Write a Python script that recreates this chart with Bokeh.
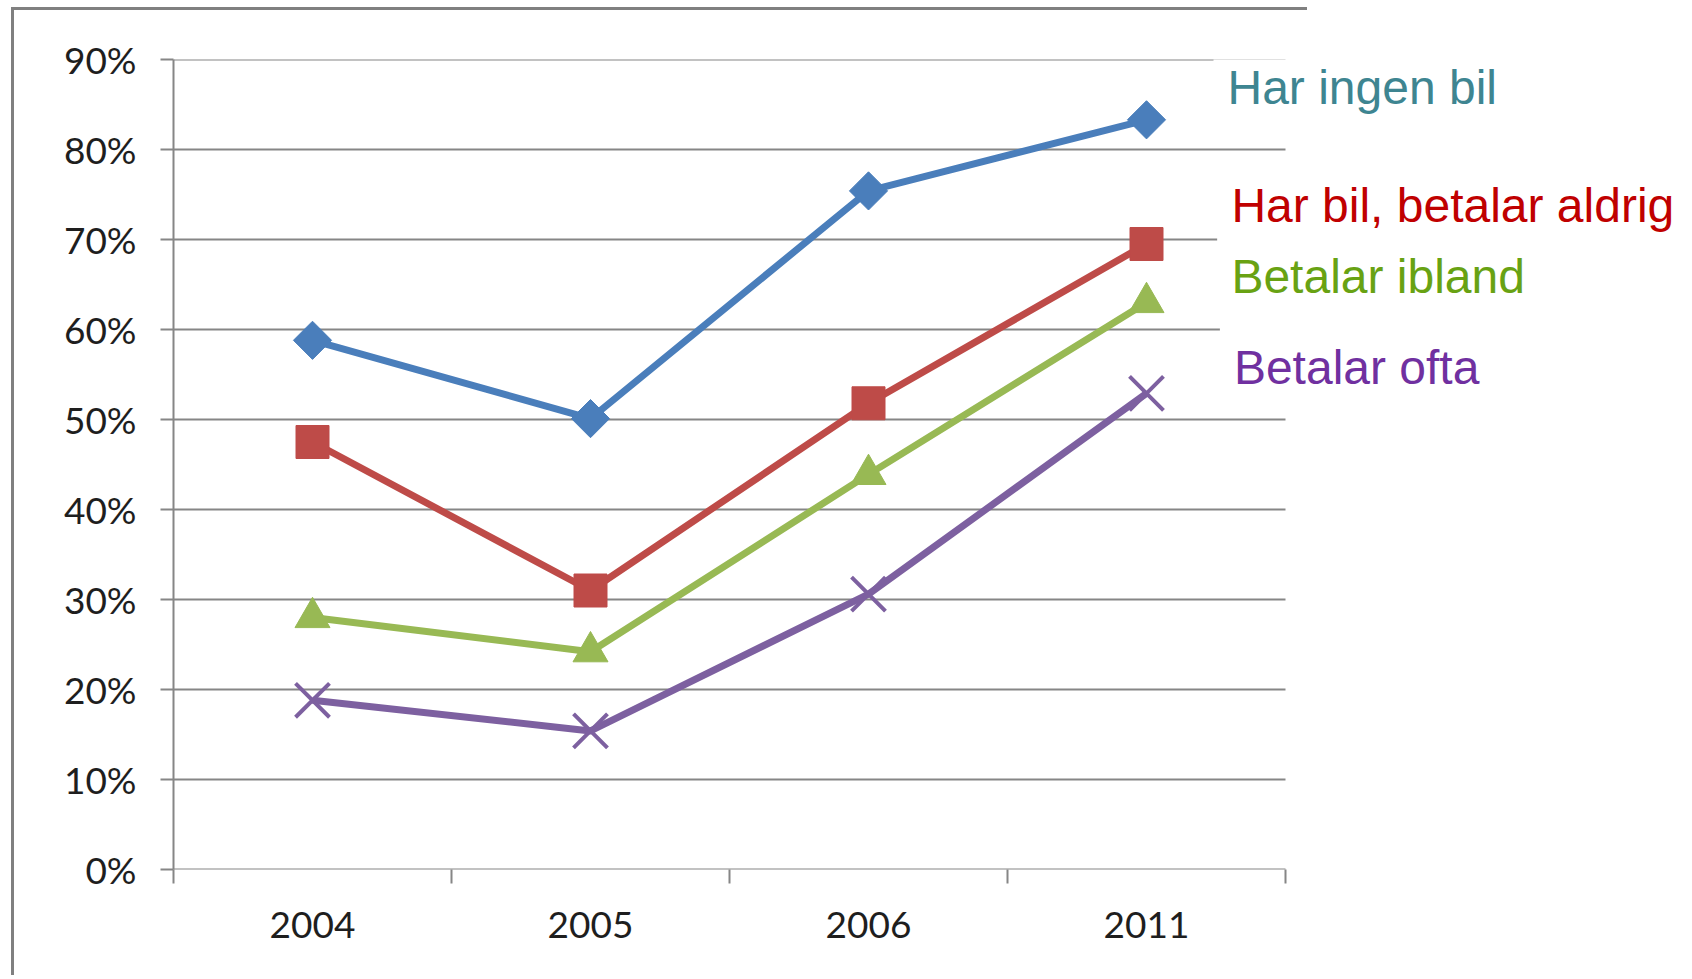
import numpy as np
from bokeh.plotting import figure
from bokeh.models import (Range1d, FixedTicker, Label, PrintfTickFormatter,
                          InlineStyleSheet)
from bokeh.embed import file_html
from bokeh.resources import INLINE

# ---- data ----
years = ["2004", "2005", "2006", "2011"]
har_ingen_bil = [58.8, 50.1, 75.4, 83.3]
har_bil_betalar_aldrig = [47.5, 31.0, 51.8, 69.5]
betalar_ibland = [28.0, 24.2, 43.9, 63.0]
betalar_ofta = [18.8, 15.4, 30.6, 52.9]
y_ticks = [0, 10, 20, 30, 40, 50, 60, 70, 80, 90]

series_names = ["Har ingen bil", "Har bil, betalar aldrig", "Betalar ibland", "Betalar ofta"]

n = len(years)
x_centers = np.arange(n) + 0.5
x_bounds = list(np.arange(n + 1).astype(float))

# ---- layout ----
W, H = 1692, 979
LEFT, TOP, BOTTOM = 173, 59, 869
AXIS_RIGHT = 1285                     # where the category axis ends
x_max = n * (W - LEFT) / (AXIS_RIGHT - LEFT)   # frame runs on to the canvas edge

p = figure(width=W, height=H, output_backend="svg", toolbar_location=None,
           x_range=Range1d(0, x_max), y_range=Range1d(0, 90),
           min_border_left=LEFT, min_border_right=0,
           min_border_top=TOP, min_border_bottom=H - BOTTOM)
p.outline_line_color = None
p.background_fill_color = "white"
p.border_fill_color = "white"

GRAY = "#868686"
TICK_FONT = "Lato"

# y axis
p.yaxis.ticker = FixedTicker(ticks=y_ticks)
p.yaxis.formatter = PrintfTickFormatter(format="%d%%")
p.yaxis.axis_line_color = GRAY
p.yaxis.axis_line_width = 2
p.yaxis.major_tick_line_color = GRAY
p.yaxis.major_tick_line_width = 2
p.yaxis.major_tick_out = 13
p.yaxis.major_tick_in = 0
p.yaxis.minor_tick_line_color = None
p.yaxis.major_label_text_font = TICK_FONT
p.yaxis.major_label_text_font_size = "37px"
p.yaxis.major_label_text_color = "#1e1e1e"
p.yaxis.major_label_standoff = 24

# x axis: labels at category centres, ticks at category boundaries
p.xaxis.ticker = FixedTicker(ticks=list(x_centers), minor_ticks=x_bounds)
p.xaxis.major_label_overrides = {float(c): y for c, y in zip(x_centers, years)}
p.xaxis.axis_line_color = None
p.xaxis.major_tick_line_color = None
p.xaxis.major_tick_out = 0
p.xaxis.major_tick_in = 0
p.xaxis.minor_tick_line_color = GRAY
p.xaxis.minor_tick_line_width = 2
p.xaxis.minor_tick_out = 14
p.xaxis.minor_tick_in = 0
p.xaxis.major_label_text_font = TICK_FONT
p.xaxis.major_label_text_font_size = "37px"
p.xaxis.major_label_text_color = "#1e1e1e"
p.xaxis.major_label_standoff = 28

# horizontal gridlines (and the category axis line) only across the categories
p.xgrid.visible = False
p.ygrid.visible = False
p.segment(x0=[0] * len(y_ticks), x1=[n] * len(y_ticks), y0=y_ticks, y1=y_ticks,
          line_color=GRAY, line_width=2, level="underlay")

# series
line_colors = ["#4A7EBB", "#BE4B48", "#98B954", "#7D60A0"]
text_colors = ["#3E8591", "#C00000", "#68A213", "#7030A0"]
values = [har_ingen_bil, har_bil_betalar_aldrig, betalar_ibland, betalar_ofta]

for vals, col in zip(values, line_colors):
    p.line(x_centers, vals, line_color=col, line_width=7, line_join="round")

p.scatter(x_centers, har_ingen_bil, marker="square", angle=np.pi / 4, size=27,
          fill_color=line_colors[0], line_color=line_colors[0], line_width=1)
p.scatter(x_centers, har_bil_betalar_aldrig, marker="square", size=33,
          fill_color=line_colors[1], line_color=line_colors[1], line_width=1)
p.scatter(x_centers, betalar_ibland, marker="triangle", size=35,
          fill_color=line_colors[2], line_color=line_colors[2], line_width=1)
p.scatter(x_centers, betalar_ofta, marker="x", size=48,
          line_color=line_colors[3], line_width=4)

# direct labels (white boxes hide the gridlines behind them)
label_x = [3.741, 3.755, 3.755, 3.764]
label_y = [86.85, 73.75, 65.85, 55.75]
for name, col, lx, ly in zip(series_names, text_colors, label_x, label_y):
    p.add_layout(Label(x=lx, y=ly, text=name, text_color=col,
                       text_font="Liberation Sans", text_font_size="48px",
                       text_baseline="alphabetic", text_align="left",
                       background_fill_color="white", padding=14))

# outer chart-area border: left and top edges only
p.stylesheets = [InlineStyleSheet(css=(
    ":host{position:relative;}"
    ":host::after{content:'';position:absolute;left:11px;top:7px;"
    "width:1296px;height:968px;box-sizing:border-box;"
    "border-left:3px solid #808080;border-top:3px solid #808080;"
    "pointer-events:none;z-index:10;}"
))]

open("out.html", "w").write(file_html(p, INLINE))
